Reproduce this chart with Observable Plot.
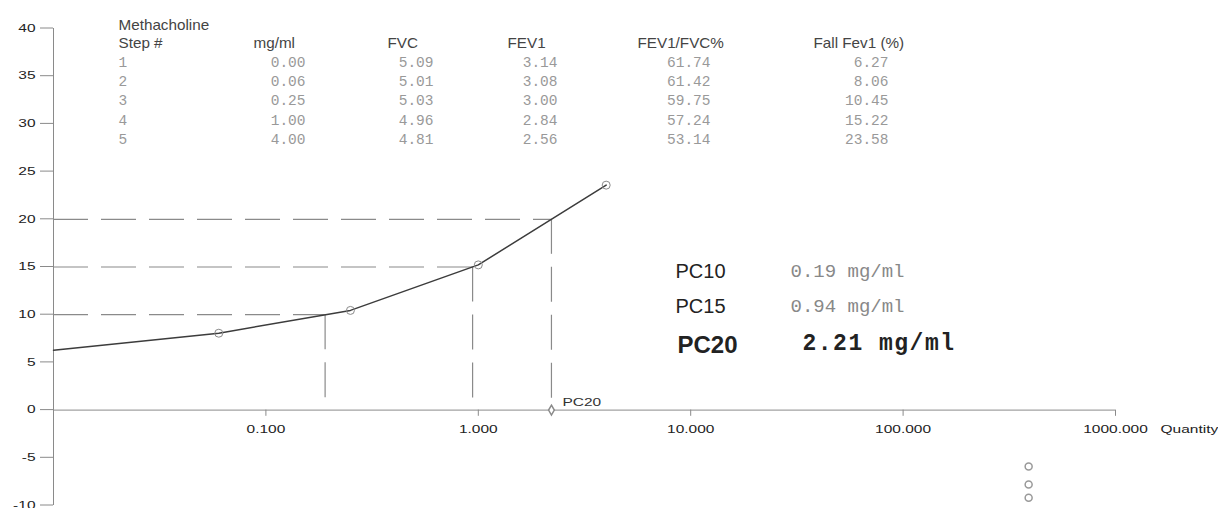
<!DOCTYPE html>
<html>
<head>
<meta charset="utf-8">
<script src="https://cdn.jsdelivr.net/npm/d3@7"></script>
<script src="https://cdn.jsdelivr.net/npm/@observablehq/plot@0.6"></script>
<style>
  html, body { margin: 0; padding: 0; background: #fff; }
  #chart svg { display: block; }
</style>
</head>
<body>
<div id="chart"></div>
<script>
// ---- data ----
const steps = [1, 2, 3, 4, 5];
const concentrations = [0.00, 0.06, 0.25, 1.00, 4.00];
const fvc = [5.09, 5.01, 5.03, 4.96, 4.81];
const fev1 = [3.14, 3.08, 3.00, 2.84, 2.56];
const fev1FvcRatio = [61.74, 61.42, 59.75, 57.24, 53.14];
const fallFev1 = [6.27, 8.06, 10.45, 15.22, 23.58];
const headers = ["Step #", "mg/ml", "FVC", "FEV1", "FEV1/FVC%", "Fall Fev1 (%)"];
const tableTitle = "Methacholine";
const pcLabels = ["PC10", "PC15", "PC20"];
const pcLevels = [10, 15, 20];
const pcValues = [0.19, 0.94, 2.21];
const strayX = [390, 390, 390];
const strayY = [-5.9, -7.8, -9.2];
const xTicks = [0.1, 1, 10, 100, 1000];
const yTicks = [-10, -5, 0, 5, 10, 15, 20, 25, 30, 35, 40];
const xDomain = [0.01, 1000];
const yDomain = [-10, 40];
const xAxisLabel = "Quantity";

// ---- layout ----
const W = 1218, H = 508, ML = 53, MR = 103, MT = 28, MB = 3;
const sans = "Liberation Sans, Arial, sans-serif";
const mono = "Liberation Mono, Courier New, monospace";
const grey = "#8a8a8a";
const at = (x, y) => ({frameAnchor: "top-left", dx: x - ML, dy: y - MT, lineAnchor: "bottom"});
const f2 = v => v.toFixed(2);

const points = concentrations.map((c, i) => ({x: c > 0 ? c : xDomain[0], y: fallFev1[i], measured: c > 0}));

const headerX = [118, 253, 387, 507, 637, 813];
const valueX = [118, 305, 433, 557, 710, 888];
const columns = [steps.map(String), concentrations.map(f2), fvc.map(f2), fev1.map(f2), fev1FvcRatio.map(f2), fallFev1.map(f2)];
const pcLabelPos = [[675, 277], [675, 312], [677, 352]];
const pcValuePos = [[790, 276], [790, 311], [802, 349]];

const marks = [
  // y axis
  Plot.ruleX([xDomain[0]], {x: d => d, y1: () => yDomain[0], y2: () => yDomain[1], stroke: grey}),
  Plot.text(yTicks, {y: d => d, frameAnchor: "left", dx: -18, text: d => String(d), textAnchor: "end", fontSize: 10, fill: "#222", fontFamily: sans, ariaDescription: "stretch-axis"}),
  // x axis at y = 0
  Plot.ruleY([0], {y: d => d, x1: () => xDomain[0], x2: () => xDomain[1], stroke: grey}),
  Plot.ruleX(xTicks, {x: d => d, y1: () => 0, y2: () => -0.65, stroke: grey}),
  Plot.text(xTicks, {x: d => d, y: () => 0, dy: 20, text: d => d.toFixed(3), fontSize: 10, fill: "#222", fontFamily: sans, ariaDescription: "stretch-axis"}),
  Plot.text([xAxisLabel], {x: () => xTicks[xTicks.length - 1], y: () => 0, dx: 45, dy: 20, text: d => d, textAnchor: "start", fontSize: 10, fill: "#222", fontFamily: sans, ariaDescription: "stretch-axis"}),
  // PC dashed guides
  Plot.ruleY(pcLevels, {y: d => d, x1: () => xDomain[0], x2: (d, i) => pcValues[i], stroke: grey, strokeWidth: 1.2, strokeDasharray: "35,13"}),
  Plot.ruleX(pcValues, {x: d => d, y1: (d, i) => pcLevels[i], y2: () => 0, stroke: grey, strokeWidth: 1.2, strokeDasharray: "35,13"}),
  // curve
  Plot.line(points, {x: "x", y: "y", stroke: "#3c3c3c", strokeWidth: 1.5}),
  Plot.dot(points.filter(d => d.measured), {x: "x", y: "y", r: 4, stroke: grey, fill: "none", strokeWidth: 1}),
  // PC20 marker
  Plot.dot([pcValues[2]], {x: d => d, y: () => 0, symbol: "diamond", r: 3, stroke: grey, fill: "white"}),
  Plot.text([pcLabels[2]], {x: d => pcValues[2], y: () => 0, text: d => d, dx: 11, dy: -7, textAnchor: "start", fontSize: 10, fill: "#333", fontFamily: sans, ariaDescription: "stretch-axis"}),
  // stray points
  Plot.dot(strayY, {x: (d, i) => strayX[i], y: d => d, r: 3.5, stroke: "#999", fill: "none"}),
  // table
  Plot.text([tableTitle], {...at(118, 29), text: d => d, textAnchor: "start", fontSize: 14, fill: "#444", fontFamily: sans, ariaDescription: "stretch-head"}),
  ...headers.map((h, i) => Plot.text([h], {...at(headerX[i], 47), text: d => d, textAnchor: "start", fontSize: 14, fill: "#444", fontFamily: sans, ariaDescription: "stretch-head"})),
  ...columns.map((col, i) => Plot.text([col.join("\n")], {...at(valueX[i], 143.6), text: d => d, textAnchor: i === 0 ? "start" : "end", fontSize: 14.5, lineHeight: 19.4 / 14.5, fill: "#999", fontFamily: mono})),
  // PC results
  ...pcLabels.map((l, i) => Plot.text([l], {...at(pcLabelPos[i][0], pcLabelPos[i][1]), text: d => d, textAnchor: "start", fontSize: i === 2 ? 24 : 20, fontWeight: i === 2 ? "bold" : "normal", fill: "#222", fontFamily: sans})),
  ...pcValues.map((v, i) => Plot.text([`${f2(v)} mg/ml`], {...at(pcValuePos[i][0], pcValuePos[i][1]), text: d => d, textAnchor: "start", fontSize: i === 2 ? 23 : 19, fontWeight: i === 2 ? "bold" : "normal", fill: i === 2 ? "#222" : "#888", fontFamily: mono, ariaDescription: i === 2 ? "pc20-value" : "pc-value"}))
];

const chart = Plot.plot({
  width: W, height: H,
  marginLeft: ML, marginRight: MR, marginTop: MT, marginBottom: MB,
  style: {fontFamily: sans, background: "white", overflow: "visible"},
  x: {type: "log", domain: xDomain, axis: null},
  y: {domain: yDomain, axis: null},
  marks
});
document.getElementById("chart").appendChild(chart);

// y-axis tick marks positioned with the plot's own y scale
const yScale = chart.scale("y");
const svg = d3.select(chart);
svg.append("g").attr("stroke", grey)
  .selectAll("line").data(yTicks).join("line")
  .attr("x1", ML - 13).attr("x2", ML)
  .attr("y1", d => yScale.apply(d)).attr("y2", d => yScale.apply(d));

// horizontal stretch of text glyphs as in the reference rendering
function stretch(sel, k) {
  sel.each(function () {
    const t = this.getAttribute("transform") || "";
    this.setAttribute("transform", `${t} scale(${k},1)`);
  });
}
stretch(svg.selectAll('g[aria-description="stretch-axis"] text'), 1.55);
stretch(svg.selectAll('g[aria-description="stretch-head"] text'), 1.09);
svg.selectAll('g[aria-description="pc20-value"] text').attr("letter-spacing", 1.5);
</script>
</body>
</html>
